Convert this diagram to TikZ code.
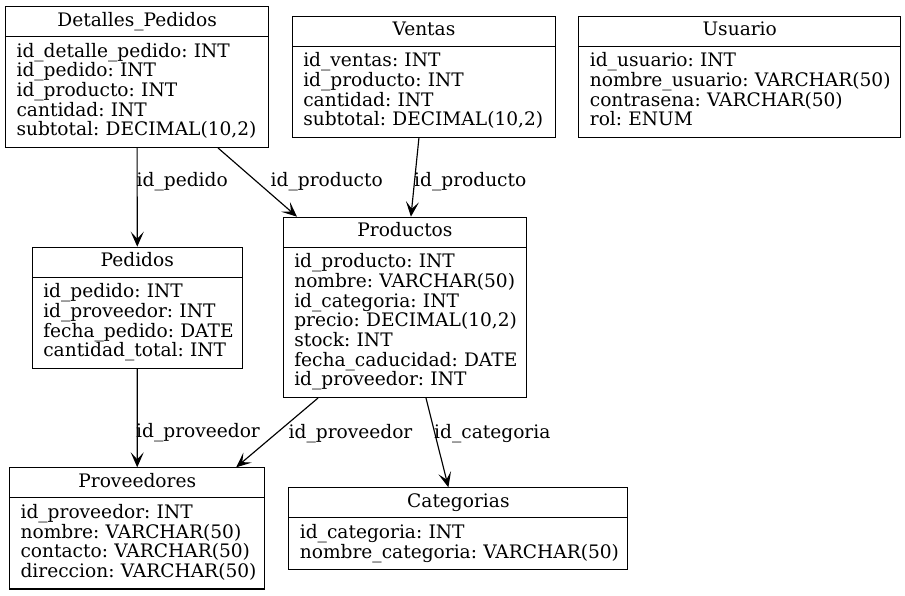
\documentclass[tikz,border=0pt]{standalone}
\usepackage{fontspec}
\setmainfont{DejaVu Serif}
\usetikzlibrary{arrows.meta}
\frenchspacing
\newcommand\fs{\fontsize{18.6pt}{19.7pt}\selectfont\frenchspacing}
\newcommand\ls{\rule[-5.4pt]{0pt}{19.7pt}}
\newcommand\fld[1]{\mbox{\ls #1}}
\tikzset{
  hdr/.style={draw, line width=1.15pt, anchor=north west, minimum height=30pt, inner sep=0pt, font=\fs},
  tbody/.style={draw, line width=1.15pt, anchor=north west, inner xsep=11pt, inner ysep=0pt, align=left, font=\fs},
  lbl/.style={anchor=base west, inner sep=0pt, font=\fs},
  arr/.style={line width=1.15pt, -{Stealth[length=15pt,width=13pt,inset=7pt]}}
}
\begin{document}
\begin{tikzpicture}[x=1pt,y=-1pt]
\useasboundingbox (0,0) rectangle (905,595);
% Detalles_Pedidos
\node[hdr, minimum width=263pt] (dp) at (5,6) {\ls Detalles\_Pedidos};
\node[tbody, text width=241pt, minimum height=110.8pt] (dpb) at (5,36) {\fld{id\_detalle\_pedido: INT}\\\fld{id\_pedido: INT}\\\fld{id\_producto: INT}\\\fld{cantidad: INT}\\\fld{subtotal: DECIMAL(10,2)}};
% Ventas
\node[hdr, minimum width=263.3pt] (ve) at (291.7,15.7) {\ls Ventas};
\node[tbody, text width=241.3pt, minimum height=91.1pt] (veb) at (291.7,45.7) {\fld{id\_ventas: INT}\\\fld{id\_producto: INT}\\\fld{cantidad: INT}\\\fld{subtotal: DECIMAL(10,2)}};
% Usuario
\node[hdr, minimum width=321.7pt] (us) at (578.3,15.7) {\ls Usuario};
\node[tbody, text width=299.7pt, minimum height=91.1pt] (usb) at (578.3,45.7) {\fld{id\_usuario: INT}\\\fld{nombre\_usuario: VARCHAR(50)}\\\fld{contrasena: VARCHAR(50)}\\\fld{rol: ENUM}};
% Pedidos
\node[hdr, minimum width=210pt] (pe) at (31.7,246.7) {\ls Pedidos};
\node[tbody, text width=188pt, minimum height=91.1pt] (peb) at (31.7,276.7) {\fld{id\_pedido: INT}\\\fld{id\_proveedor: INT}\\\fld{fecha\_pedido: DATE}\\\fld{cantidad\_total: INT}};
% Productos
\node[hdr, minimum width=243.3pt] (pr) at (282.7,216.7) {\ls Productos};
\node[tbody, text width=221.3pt, minimum height=150.2pt] (prb) at (282.7,246.7) {\fld{id\_producto: INT}\\\fld{nombre: VARCHAR(50)}\\\fld{id\_categoria: INT}\\\fld{precio: DECIMAL(10,2)}\\\fld{stock: INT}\\\fld{fecha\_caducidad: DATE}\\\fld{id\_proveedor: INT}};
% Categorias
\node[hdr, minimum width=339pt] (ca) at (288.3,487.3) {\ls Categorias};
\node[tbody, text width=317pt, minimum height=51.7pt] (cab) at (288.3,517.3) {\fld{id\_categoria: INT}\\\fld{nombre\_categoria: VARCHAR(50)}};
% Proveedores
\node[hdr, minimum width=255.3pt] (pv) at (9,467.3) {\ls Proveedores};
\node[tbody, text width=233.3pt, minimum height=91.1pt] (pvb) at (9,497.3) {\fld{id\_proveedor: INT}\\\fld{nombre: VARCHAR(50)}\\\fld{contacto: VARCHAR(50)}\\\fld{direccion: VARCHAR(50)}};
% connectors
\draw[arr] (dpb.south) -- (pe.north);
\draw[arr] ([xshift=213pt]dpb.south west) -- ([xshift=14.3pt]pr.north west);
\draw[arr] ([xshift=-5pt]veb.south) -- ([xshift=6pt]pr.north);
\draw[arr] (peb.south) -- (pv.north);
\draw[arr] ([xshift=35.3pt]prb.south west) -- ([xshift=-29.3pt]pv.north east);
\draw[arr] ([xshift=143.3pt]prb.south west) -- ([xshift=-10pt]ca.north);
% labels
\node[lbl] (l1) at (136.5,186.3) {id\_pedido};
\node[lbl] (l2) at (270.5,186.7) {id\_producto};
\node[lbl] (l3) at (414,186.7) {id\_producto};
\node[lbl] (l4) at (136,437.5) {id\_proveedor};
\node[lbl] (l5) at (288.5,438) {id\_proveedor};
\node[lbl] (l6) at (434,438) {id\_categoria};
\end{tikzpicture}
\end{document}
